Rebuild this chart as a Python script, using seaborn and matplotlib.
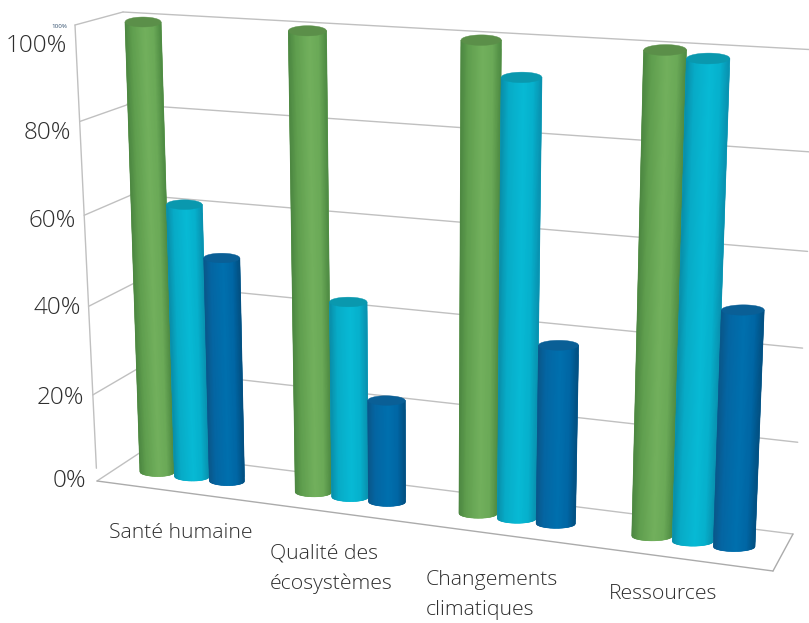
import numpy as np
import pandas as pd
import matplotlib
matplotlib.use("Agg")
import matplotlib.pyplot as plt
from matplotlib.collections import PolyCollection
from matplotlib.transforms import Transform
import seaborn as sns

# ---- data ----
categories = ["Santé humaine", "Qualité des\nécosystèmes", "Changements\nclimatiques", "Ressources"]
series_a = [100, 100, 100, 100]
series_b = [61.3, 43.3, 93, 98.8]
series_c = [50.3, 22.6, 38.5, 49.5]
tick_labels = ["100%", "80%", "60%", "40%", "20%", "0%"]
grid_levels = [100, 80, 60, 40, 20, 0]

# ---- style ----
W, H = 809, 623
TEXT = "#2e2e2e"
GRID = "#c0c0c0"
palette = ["#6cab58", "#06b3cf", "#0069a8"]
stops = {
    "#6cab58": (["#4b8540", "#5f9e4e", "#72b05d", "#6aa957", "#4e8a43"], "#5b8f49"),
    "#06b3cf": (["#0a8ba6", "#08aac6", "#07bad5", "#06b0cc", "#0a90ae"], "#0a98ae"),
    "#0069a8": (["#0a5688", "#0565a2", "#0070ae", "#0066a4", "#034f80"], "#0a5f96"),
}
stop_pos = [0, 0.2, 0.55, 0.8, 1]


class Homography(Transform):
    """Plane (u, v) -> image pixels, with the perspective of the reference."""
    input_dims = output_dims = 2
    is_separable = False
    has_inverse = False

    def __init__(self, src, dst):
        super().__init__()
        A, b = [], []
        for (u, v), (x, y) in zip(src, dst):
            A.append([u, v, 1, 0, 0, 0, -u * x, -v * x])
            A.append([0, 0, 0, u, v, 1, -u * y, -v * y])
            b += [x, y]
        self.m = np.append(np.linalg.solve(np.array(A, float), np.array(b, float)), 1).reshape(3, 3)

    def transform_non_affine(self, values):
        values = np.asarray(values, float)
        p = np.c_[values, np.ones(len(values))] @ self.m.T
        return np.c_[p[:, 0] / p[:, 2], H - p[:, 1] / p[:, 2]]


def rect(x0, x1, y0, y1):
    return [(x0, y0), (x1, y0), (x1, y1), (x0, y1)]


# Planes of the scene
BAR_W = 0.68
u_first = -BAR_W / 3
bar_T = Homography(rect(u_first, u_first + 3, 0, 100), [(157, 472), (652, 536), (665, 50), (143, 22)])
back_T = Homography(rect(0, 1, 0, 100), [(141, 452), (793, 534), (818, 50), (123, 12)])
left_T = Homography(rect(0, 1, 0, 100), [(97, 481), (141, 452), (123, 12), (75, 25)])
floor_T = Homography(rect(0, 1, 0, 1), [(97, 481), (773, 571), (793, 534), (141, 452)])

sns.set_theme(style="white")
plt.rcParams["font.family"] = ["Open Sans", "DejaVu Sans"]

df = pd.DataFrame({
    "category": categories * 3,
    "series": ["a"] * 4 + ["b"] * 4 + ["c"] * 4,
    "value": series_a + series_b + series_c,
})

fig = plt.figure(figsize=(W / 100, H / 100), dpi=100, facecolor="white")
ax = fig.add_axes([0, 0, 1, 1])
sns.barplot(data=df, x="category", y="value", hue="series", palette=palette,
            width=BAR_W, legend=False, ax=ax, saturation=1)
ax.set_xlim(-0.5, 3.5)
ax.set_ylim(0, 110)
ax.axis("off")

# Walls and floor
line = dict(color=GRID, lw=1.0, zorder=1)
for g in grid_levels:
    ax.plot([0, 1], [g, g], transform=back_T, **line)
    ax.plot([0, 1], [g, g], transform=left_T, **line)
ax.plot([0, 0], [3, 100], transform=left_T, **line)
ax.plot([0, 1], [0, 0], transform=floor_T, color="#ababab", lw=1.0, zorder=1)
ax.plot([1, 1], [0, 1], transform=floor_T, color="#ababab", lw=1.0, zorder=1)


def level(us, uc, v):
    """Values along a bar's width that keep its end caps horizontal in the picture."""
    pts = np.c_[np.r_[us, uc], np.full(len(us) + 1, v)]
    y = -bar_T.transform_non_affine(pts)[:, 1]
    return v + (y[:-1] - y[-1]) * 100 / 470


# Turn each seaborn bar into a shaded cylinder
B = 1.05
N = 48
z = 2
for patch in list(ax.patches):
    u0, w, h = patch.get_x(), patch.get_width(), patch.get_height()
    colour = matplotlib.colors.to_hex(patch.get_facecolor())
    grad, cap = stops[colour]
    rgb = np.array([matplotlib.colors.to_rgb(c) for c in grad])
    patch.set_y(1.5)
    patch.set_height(h - 3)
    patch.set_transform(bar_T)
    patch.set_clip_on(False)
    patch.set_zorder(z)
    patch.set_linewidth(0)
    ts = np.linspace(0, 1, N + 1)
    us = u0 + w * ts
    uc = u0 + w / 2
    arc = B * np.sqrt(np.clip(1 - (2 * ts - 1) ** 2, 0, 1))
    low = level(us, uc, 0) - arc
    top_mid = level(us, uc, h)
    # silhouette under the strips, so no seam shows through
    ax.fill(np.r_[us, us[::-1]], np.r_[low, top_mid[::-1]], color=grad[2], lw=0,
            transform=bar_T, zorder=z + 0.05, clip_on=False)
    verts, cols = [], []
    for i in range(N):
        verts.append([(us[i], low[i]), (us[i + 1], low[i + 1]),
                      (us[i + 1], top_mid[i + 1]), (us[i], top_mid[i])])
        tm = (ts[i] + ts[i + 1]) / 2
        cols.append([np.interp(tm, stop_pos, rgb[:, k]) for k in range(3)])
    body = PolyCollection(verts, facecolors=cols, edgecolors=cols, linewidths=0.4,
                          transform=bar_T, zorder=z + 0.1, clip_on=False)
    ax.add_collection(body, autolim=False)
    top = np.r_[np.c_[us, top_mid + arc], np.c_[us[::-1], (top_mid - arc)[::-1]]]
    ax.fill(top[:, 0], top[:, 1], color=cap, lw=0.3, transform=bar_T, zorder=z + 0.2, clip_on=False)
    z += 1


# Text
def put(x, y, s, **kw):
    fig.text(x / W, 1 - y / H, s, color=kw.pop("color", TEXT), **kw)


tick_x = [67, 71, 76, 81, 84, 86]
tick_y = [46, 133, 221, 308, 398, 481]
for x, y, s in zip(tick_x, tick_y, tick_labels):
    put(x, y, s, fontsize=17.5, ha="right", va="center", fontweight="light")
put(67, 26.5, "100%", fontsize=4.5, ha="right", va="center", color="#33506e")

cat_x = [109, 270, 426, 609]
cat_y = [533, 569, 595, 594]
for x, y, s in zip(cat_x, cat_y, categories):
    put(x, y, s, fontsize=15.3, ha="left", va="center", linespacing=1.63, fontweight="light")

fig.savefig("out.png", dpi=100)
